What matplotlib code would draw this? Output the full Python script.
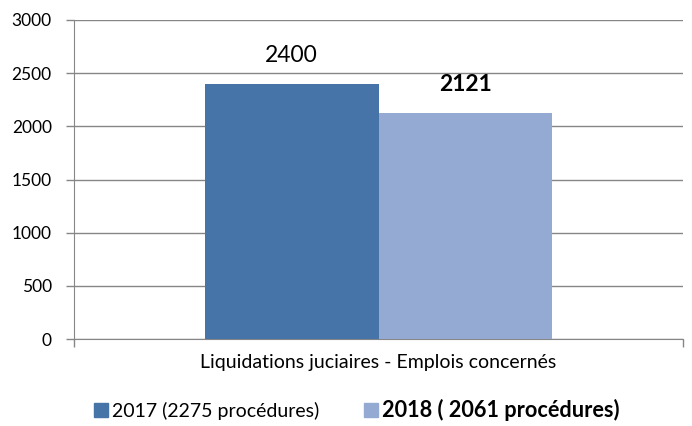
import matplotlib
matplotlib.use("Agg")
import matplotlib.pyplot as plt
from matplotlib.patches import Patch

plt.rcParams['font.family'] = ['Lato', 'DejaVu Sans']

category = "Liquidations juciaires - Emplois concernés"
series_labels = ["2017 (2275 procédures)", "2018 ( 2061 procédures)"]
values = [2400, 2121]
value_labels = ["2400", "2121"]
colors = ["#4674A8", "#94AAD2"]
yticks = [0, 500, 1000, 1500, 2000, 2500, 3000]

fig = plt.figure(figsize=(6.92, 4.26), dpi=100)
ax = fig.add_axes([74/692, 1-339/426, 609/692, 319/426])

w = 0.285
xs = [-w/2, w/2]
for i, (x, v) in enumerate(zip(xs, values)):
    ax.bar(x, v, width=w, color=colors[i], zorder=3)
    ax.annotate(value_labels[i], (x, v), xytext=(0, 13),
                textcoords="offset points", ha="center", va="bottom",
                fontsize=16.5,
                fontweight="normal" if i == 0 else "bold", color="black")

ax.set_xlim(-0.5, 0.5)
ax.set_ylim(0, 3000)
ax.set_yticks(yticks)
ax.set_yticklabels([str(t) for t in yticks], fontsize=12.5)
ax.yaxis.grid(True, color="#868686", linewidth=1, zorder=0)
ax.tick_params(axis='y', length=6, color="#868686", width=1, pad=10)
ax.set_xticks([-0.5, 0.5])
ax.set_xticklabels(["", ""])
ax.tick_params(axis='x', length=6, color="#868686", width=1, direction='out')
for s in ["top", "right"]:
    ax.spines[s].set_visible(False)
for s in ["left", "bottom"]:
    ax.spines[s].set_color("#868686")
ax.text(0, -0.075, category, transform=ax.get_xaxis_transform(),
        ha="center", va="center", fontsize=14)

handles = [Patch(color=c) for c in colors]
leg = fig.legend(handles, series_labels, loc="center", bbox_to_anchor=(357/692, 1-410/426),
                 ncol=2, frameon=False, fontsize=14, handlelength=0.72, handleheight=0.72,
                 handletextpad=0.2, columnspacing=2.3, borderpad=0, borderaxespad=0)
leg.get_texts()[1].set_fontweight("bold")
leg.get_texts()[1].set_fontsize(15.6)

fig.savefig("out.png", dpi=100)
